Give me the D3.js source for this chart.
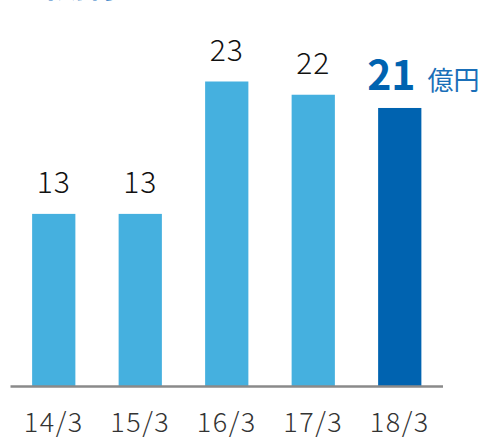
<!DOCTYPE html>
<html>
<head>
<meta charset="utf-8">
<script src="https://cdn.jsdelivr.net/npm/d3@7"></script>
<style>
  body { margin: 0; background: #fff; }
  text { font-family: "Noto Sans CJK JP", "Noto Sans", sans-serif; }
</style>
</head>
<body>
<svg id="chart"></svg>
<script>
// Dimensions
const width = 485;
const height = 437;

const periods = ["14/3", "15/3", "16/3", "17/3", "18/3"];
const values = [13, 13, 23, 22, 21];
const unit = "億円";
const title = "当期利益";

const svg = d3.select("#chart")
    .attr("width", width)
    .attr("height", height);

const x = d3.scaleBand()
    .domain(periods)
    .range([10.5, 443])
    .paddingInner(0.5)
    .paddingOuter(0.25);

const y = d3.scaleLinear()
    .domain([0, 23])
    .range([386, 81.5]);

// title, mostly outside the frame
svg.append("text")
    .attr("x", 26)
    .attr("y", -3.5)
    .attr("fill", "#1c74c2")
    .attr("font-size", 30)
    .attr("font-weight", 700)
    .text(title);

const last = periods.length - 1;

svg.selectAll("rect.bar")
    .data(values)
    .join("rect")
    .attr("class", "bar")
    .attr("x", (d, i) => x(periods[i]))
    .attr("y", d => y(d))
    .attr("width", x.bandwidth())
    .attr("height", d => y(0) - y(d))
    .attr("fill", (d, i) => i === last ? "#0063b0" : "#45b0df");

// axis line
svg.append("line")
    .attr("x1", x.range()[0])
    .attr("x2", x.range()[1])
    .attr("y1", y(0) + 0.5)
    .attr("y2", y(0) + 0.5)
    .attr("stroke", "#8a8a8a")
    .attr("stroke-width", 2.5);

// value labels
svg.selectAll("text.val")
    .data(values.slice(0, last))
    .join("text")
    .attr("class", "val")
    .attr("x", (d, i) => x(periods[i]) + x.bandwidth() / 2)
    .attr("y", d => y(d) - 21)
    .attr("text-anchor", "middle")
    .attr("font-size", 30)
    .attr("font-weight", 300)
    .attr("letter-spacing", 1)
    .attr("fill", "#111")
    .text(d => d);

const hl = svg.append("text")
    .attr("x", x(periods[last]) - 11)
    .attr("y", y(values[last]) - 18)
    .attr("fill", "#0063b0");
hl.append("tspan")
    .attr("font-size", 41)
    .attr("font-weight", 700)
    .text(values[last]);
hl.append("tspan")
    .attr("dx", 12)
    .attr("font-size", 26)
    .attr("font-weight", 400)
    .attr("fill", "#1a6fb8")
    .text(unit);

// period labels
svg.selectAll("text.tick")
    .data(periods)
    .join("text")
    .attr("class", "tick")
    .attr("x", d => x(d) + x.bandwidth() / 2)
    .attr("y", 432)
    .attr("text-anchor", "middle")
    .attr("font-size", 27)
    .attr("font-weight", 300)
    .attr("letter-spacing", 1.5)
    .attr("fill", "#333")
    .text(d => d);
</script>
</body>
</html>
